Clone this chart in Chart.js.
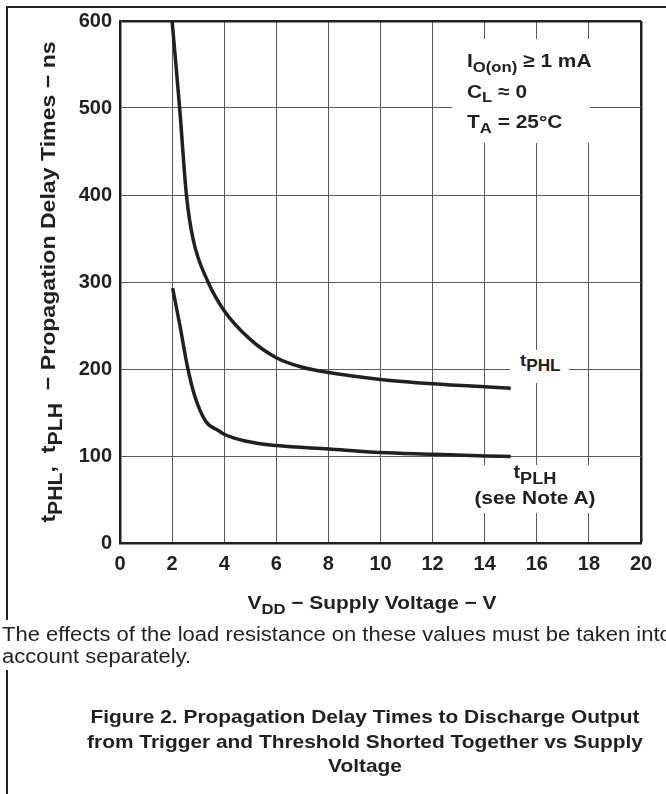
<!DOCTYPE html>
<html>
<head>
<meta charset="utf-8">
<title>Figure 2</title>
<script src="https://cdn.jsdelivr.net/npm/chart.js@4.4.0/dist/chart.umd.min.js"></script>
<style>
  body { margin: 0; background: #fff; }
  #page {
    position: relative; width: 666px; height: 794px; overflow: hidden;
    font-family: "Liberation Sans", Arial, sans-serif; color: #231f20;
  }
  #chart { position: absolute; left: 0; top: 0; }
  .rule { position: absolute; background: #231f20; }
  .txt { position: absolute; white-space: nowrap; }
  .bold { font-weight: bold; }
  .wbg { background: #fff; }
  .wide { transform: scaleX(1.1); transform-origin: left top; }
  .wide-c { transform: scaleX(1.1); transform-origin: center top; }
  .s { font-size: 0.8em; position: relative; top: 0.3em; }
  .s2 { font-size: 0.92em; position: relative; top: 0.35em; }
</style>
</head>
<body>
<div id="page">
  <canvas id="chart" width="666" height="794"></canvas>

  <!-- page frame -->
  <div class="rule" style="left:7px; top:6px; width:659px; height:1.5px;"></div>
  <div class="rule" style="left:6px; top:6px; width:1.5px; height:788px;"></div>

  <!-- conditions box -->
  <div class="txt bold wbg" style="left:452px; top:39px; width:138px; height:104px;">
    <div class="wide" style="position:absolute; left:15px; top:7px; font-size:19px; line-height:29.5px;">
      <div>I<span class="s">O(on)</span> ≥ 1 mA</div>
      <div>C<span class="s">L</span> ≈ 0</div>
      <div>T<span class="s">A</span> = 25°C</div>
    </div>
  </div>

  <!-- curve labels -->
  <div class="txt bold wbg" style="left:510px; top:350px; width:59px; height:33px;">
    <div class="wide" style="position:absolute; left:10px; top:1px; font-size:17px; line-height:20px;">t<span class="s2">PHL</span></div>
  </div>
  <div class="txt bold wbg" style="left:470px; top:465px; width:130px; height:48px;">
    <div class="wide-c" style="position:absolute; left:0; top:-5px; width:130px; text-align:center; line-height:25px;">
      <div style="font-size:18px;">t<span class="s2">PLH</span></div>
      <div style="font-size:19px;">(see Note A)</div>
    </div>
  </div>

  <!-- axis titles -->
  <div class="txt bold wide-c" style="left:172px; top:593px; width:400px; text-align:center; font-size:19px; line-height:20px;">V<span class="s">DD</span> − Supply Voltage − V</div>
  <div class="txt bold" style="left:-232px; top:271px; width:560px; height:22px; text-align:center; font-size:21px; line-height:22px; transform:rotate(-90deg) scaleX(1.1);">t<span class="s2">PHL</span>,&nbsp; t<span class="s2">PLH</span> &nbsp;− Propagation Delay Times − ns</div>

  <!-- note -->
  <div class="txt wbg" style="left:0; top:620px; width:666px; height:50px;">
    <div class="wide" style="position:absolute; left:2px; top:4px; font-size:20px; line-height:21.5px;">
      <div>The effects of the load resistance on these values must be taken into</div>
      <div>account separately.</div>
    </div>
  </div>

  <!-- caption -->
  <div class="txt bold wide-c" style="left:65px; top:705px; width:600px; text-align:center; font-size:19px; line-height:24.5px;">
    <div>Figure 2. Propagation Delay Times to Discharge Output</div>
    <div>from Trigger and Threshold Shorted Together vs Supply</div>
    <div>Voltage</div>
  </div>
</div>

<script>
// values
var supplyPHL = [2.0, 2.29, 2.55, 2.8, 3.38, 4, 5, 6, 7, 8, 10, 12, 14, 15];
var delayPHL = [600, 500, 400, 350, 300, 267, 234, 213, 202, 196, 188, 183, 179.5, 178];

var supplyPLH = [2.02, 2.3, 2.58, 2.87, 3.29, 3.79, 4, 4.85, 6, 8, 10, 12, 14, 15];
var delayPLH = [293, 250, 204, 169, 140, 129, 125, 117, 112, 108, 104, 102, 100, 99.5];

var voltageTicks = [0, 2, 4, 6, 8, 10, 12, 14, 16, 18, 20];
var delayTicks = [0, 100, 200, 300, 400, 500, 600];

var ink = "#231f20";
var gridColor = "#58595b";
var tickFont = { family: "'Liberation Sans', Arial, sans-serif", size: 20, weight: "bold" };

function toPoints(xs, ys) {
  return xs.map(function (x, i) {
    return { x: x, y: ys[i] };
  });
}

function curve(label, xs, ys) {
  return {
    label: label,
    data: toPoints(xs, ys),
    borderColor: ink,
    borderWidth: 3.5,
    pointRadius: 0,
    fill: false,
    cubicInterpolationMode: "monotone",
    borderCapStyle: "butt"
  };
}

new Chart(document.getElementById("chart").getContext("2d"), {
  type: "line",
  data: {
    datasets: [
      curve("tPHL", supplyPHL, delayPHL),
      curve("tPLH", supplyPLH, delayPLH)
    ]
  },
  options: {
    responsive: false,
    animation: false,
    devicePixelRatio: 1,
    layout: { padding: { left: 0, right: 25, top: 21, bottom: 211 } },
    plugins: {
      legend: { display: false },
      tooltip: { enabled: false }
    },
    scales: {
      x: {
        type: "linear",
        min: 0,
        max: 20,
        afterFit: function (scale) { scale.height = 40; },
        afterBuildTicks: function (scale) {
          scale.ticks = voltageTicks.map(function (v) { return { value: v }; });
        },
        ticks: { color: ink, font: tickFont, padding: 9, maxRotation: 0, autoSkip: false },
        grid: {
          drawTicks: false,
          color: function (ctx) { return ctx.tick && ctx.tick.value === 20 ? ink : gridColor; },
          lineWidth: function (ctx) { return ctx.tick && ctx.tick.value === 20 ? 2.5 : 1; }
        },
        border: { color: ink, width: 2.5 }
      },
      y: {
        min: 0,
        max: 600,
        afterFit: function (scale) { scale.width = 120; },
        afterBuildTicks: function (scale) {
          scale.ticks = delayTicks.map(function (v) { return { value: v }; });
        },
        ticks: { color: ink, font: tickFont, padding: 8 },
        grid: {
          drawTicks: false,
          color: function (ctx) { return ctx.tick && ctx.tick.value === 600 ? ink : gridColor; },
          lineWidth: function (ctx) { return ctx.tick && ctx.tick.value === 600 ? 2.5 : 1; }
        },
        border: { color: ink, width: 2.5 }
      }
    }
  }
});
</script>
</body>
</html>
